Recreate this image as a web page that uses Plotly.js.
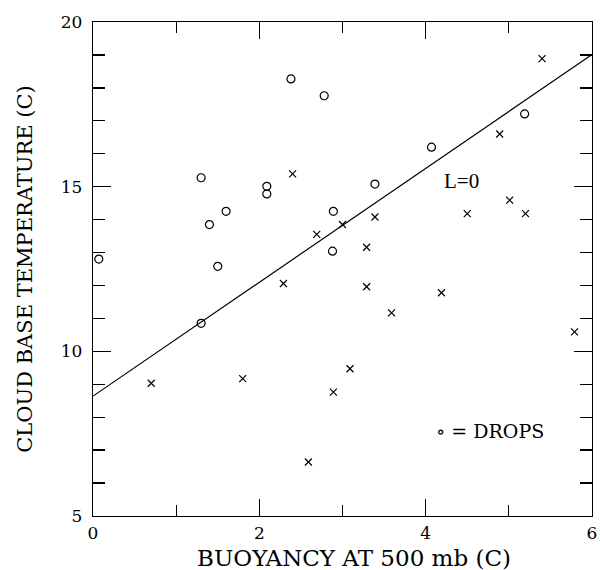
<!DOCTYPE html>
<html>
<head>
<meta charset="utf-8">
<script src="https://cdn.plot.ly/plotly-3.0.1.min.js"></script>
<style>body{margin:0;background:#fff}#chart{width:600px;height:570px}</style>
</head>
<body>
<div id="chart"></div>
<script>
// Drops (open circles)
const dropsX = [0.07, 1.30, 2.38, 2.78, 2.09, 2.09, 1.60, 2.89, 1.40, 2.88, 1.50, 1.30, 4.07, 5.19, 3.39];
const dropsY = [12.80, 15.27, 18.27, 17.76, 15.01, 14.78, 14.25, 14.25, 13.85, 13.04, 12.58, 10.85, 16.20, 17.21, 15.08];
// Other cases (x marks)
const crossX = [2.40, 2.69, 3.00, 5.40, 4.89, 5.01, 4.50, 5.20, 3.39, 3.29, 2.29, 0.70, 1.80, 2.89, 2.59, 3.29, 4.19, 3.59, 3.09, 5.79];
const crossY = [15.39, 13.55, 13.85, 18.89, 16.60, 14.59, 14.18, 14.18, 14.08, 13.16, 12.06, 9.03, 9.17, 8.76, 6.64, 11.96, 11.78, 11.17, 9.47, 10.59];
// L=0 line
const lineX = [0, 6];
const lineY = [8.64, 19.01];
const xTicks = [0, 2, 4, 6];
const yTicks = [5, 10, 15, 20];

const FONT = "DejaVu Serif";

const traces = [
  {x: lineX, y: lineY, mode: 'lines', line: {color: '#000', width: 1.2}, hoverinfo: 'skip'},
  {x: dropsX, y: dropsY, mode: 'markers', marker: {symbol: 'circle-open', size: 8, color: '#000', line: {width: 1.2, color: '#000'}}},
  {x: crossX, y: crossY, mode: 'markers', marker: {symbol: 'x-thin-open', size: 7, color: '#000', line: {width: 1.2, color: '#000'}}}
];

const axisCommon = {
  showgrid: false, zeroline: false, showline: true, linecolor: '#000', linewidth: 1.3,
  mirror: 'ticks', ticks: 'inside', tickcolor: '#000', tickwidth: 1.3,
  tickfont: {family: FONT, size: 17, color: '#000'}
};

const layout = {
  width: 600, height: 570,
  margin: {l: 93, r: 8, t: 22, b: 54},
  paper_bgcolor: '#fff', plot_bgcolor: '#fff',
  showlegend: false,
  xaxis: Object.assign({}, axisCommon, {
    range: [0, 6], tickvals: xTicks, ticktext: xTicks.map(String), ticklen: 17,
    ticklabelstandoff: 1,
    minor: {dtick: 1, tick0: 0, ticks: 'inside', ticklen: 11, tickcolor: '#000', tickwidth: 1.3}
  }),
  yaxis: Object.assign({}, axisCommon, {
    range: [5, 20], tickvals: yTicks, ticktext: yTicks.map(String), ticklen: 18,
    ticklabelstandoff: 6,
    minor: {dtick: 1, tick0: 5, ticks: 'inside', ticklen: 12, tickcolor: '#000', tickwidth: 1.3},
    title: {text: 'CLOUD BASE TEMPERATURE (C)', font: {family: FONT, size: 21, color: '#000'}, standoff: 22}
  }),
  annotations: [
    {x: 0.523, y: -0.086, xref: 'paper', yref: 'paper', yanchor: 'middle', xanchor: 'center',
     text: 'BUOYANCY AT 500 mb (C)', showarrow: false,
     font: {family: FONT, size: 23, color: '#000'}},
    {x: 4.43, y: 15.16, xref: 'x', yref: 'y', text: 'L=0', showarrow: false,
     font: {family: 'Liberation Serif', size: 21, color: '#000'}},
    {x: 4.77, y: 7.57, xref: 'x', yref: 'y', text: '∘ = DROPS', showarrow: false,
     font: {family: FONT, size: 19, color: '#000'}}
  ]
};

Plotly.newPlot('chart', traces, layout, {displayModeBar: false, staticPlot: true});
</script>
</body>
</html>
